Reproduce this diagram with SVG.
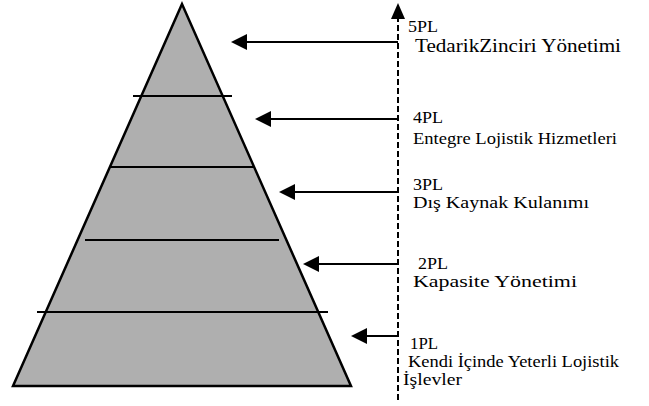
<svg xmlns="http://www.w3.org/2000/svg" width="649" height="406" viewBox="0 0 649 406">
<style>
.lbl{font-family:"Liberation Serif","Times New Roman","DejaVu Serif",serif;font-size:16px;fill:#000}
.big{font-size:18px}
.conn{stroke:#000;stroke-width:2;fill:none}
.tier{stroke:#000;stroke-width:2}
</style>
<g id="pyramid">
<polygon points="182,4 13,386 351,386" fill="#afafaf" stroke="#000" stroke-width="2.5"/>
<line class="tier" x1="133" y1="96" x2="232" y2="96"/>
<line class="tier" x1="110" y1="167" x2="255" y2="167"/>
<line class="tier" x1="85" y1="240" x2="279" y2="240"/>
<line class="tier" x1="37" y1="312" x2="328" y2="312"/>
</g>
<g id="connectors">
<line class="conn" x1="398" y1="400" x2="398" y2="19" stroke-dasharray="6,3"/>
<path d="M391,19 L398,3 L405,19 Z" fill="#000"/>
<line class="conn" x1="398" y1="42" x2="246" y2="42"/>
<path d="M247,34 L231,42 L247,50 Z" fill="#000"/>
<line class="conn" x1="398" y1="119" x2="270" y2="119"/>
<path d="M271,111 L255,119 L271,127 Z" fill="#000"/>
<line class="conn" x1="398" y1="192" x2="294" y2="192"/>
<path d="M295,184 L279,192 L295,200 Z" fill="#000"/>
<line class="conn" x1="398" y1="264" x2="318" y2="264"/>
<path d="M319,256 L303,264 L319,272 Z" fill="#000"/>
<line class="conn" x1="398" y1="336" x2="366" y2="336"/>
<path d="M367,328 L351,336 L367,344 Z" fill="#000"/>
</g>
<g id="n5">
<text class="lbl" x="408" y="32" textLength="30" lengthAdjust="spacingAndGlyphs">5PL</text>
<text class="lbl big" x="415" y="52" textLength="206" lengthAdjust="spacingAndGlyphs">TedarikZinciri Yönetimi</text>
</g>
<g id="n4">
<text class="lbl" x="413" y="123" textLength="30" lengthAdjust="spacingAndGlyphs">4PL</text>
<text class="lbl" x="413" y="144" textLength="204" lengthAdjust="spacingAndGlyphs">Entegre Lojistik Hizmetleri</text>
</g>
<g id="n3">
<text class="lbl" x="413" y="190" textLength="30" lengthAdjust="spacingAndGlyphs">3PL</text>
<text class="lbl" x="413" y="208" textLength="176" lengthAdjust="spacingAndGlyphs">Dış Kaynak Kulanımı</text>
</g>
<g id="n2">
<text class="lbl" x="418" y="269" textLength="30" lengthAdjust="spacingAndGlyphs">2PL</text>
<text class="lbl" x="413" y="287" textLength="164" lengthAdjust="spacingAndGlyphs">Kapasite Yönetimi</text>
</g>
<g id="n1">
<text class="lbl" x="410" y="349" textLength="28" lengthAdjust="spacingAndGlyphs">1PL</text>
<text class="lbl" x="408" y="367" textLength="211" lengthAdjust="spacingAndGlyphs">Kendi İçinde Yeterli Lojistik</text>
<text class="lbl" x="403" y="385" textLength="59" lengthAdjust="spacingAndGlyphs">İşlevler</text>
</g>
</svg>
